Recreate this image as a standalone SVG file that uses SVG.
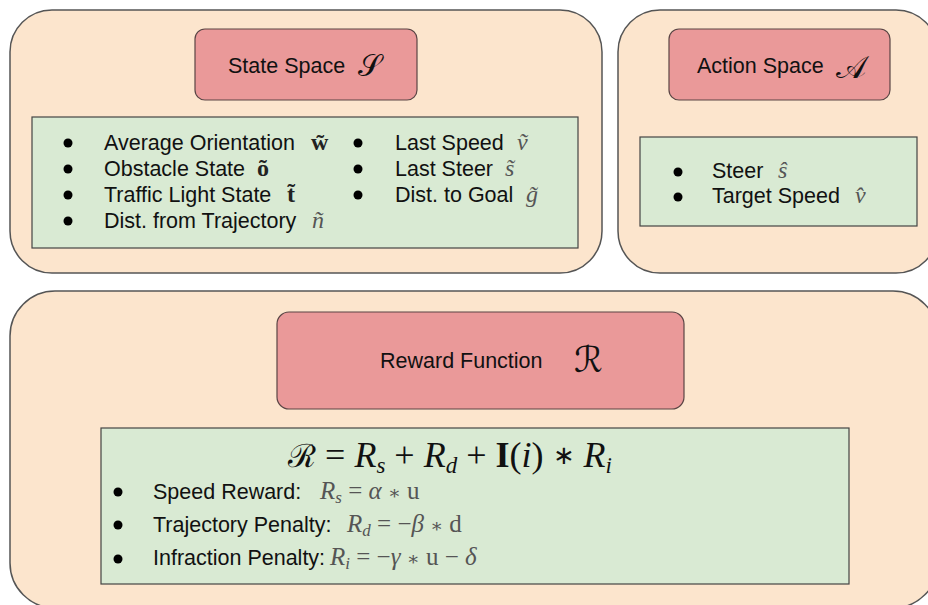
<svg xmlns="http://www.w3.org/2000/svg" width="928" height="605" viewBox="0 0 928 605">
<style>
.outer{fill:#fce5cd;stroke:#555;stroke-width:1.5}
.title{fill:#ea9999;stroke:#5a4545;stroke-width:1.2}
.green{fill:#d9ead3;stroke:#444;stroke-width:1.2}
.t{font-family:"Liberation Sans",Arial,sans-serif;font-size:21.5px;fill:#111}
.m{font-family:"Liberation Serif","DejaVu Serif",serif;font-style:italic;fill:#555;font-size:24px}
.mb{font-family:"Liberation Serif","DejaVu Serif",serif;font-weight:bold;fill:#222;font-size:24px}
.mr{font-family:"Liberation Serif","DejaVu Serif",serif;fill:#555;font-size:25px}
.cal{font-family:"DejaVu Serif","DejaVu Sans","Noto Sans",serif;fill:#111}
.b{fill:#000}
</style>
<rect width="928" height="605" fill="#fff"/>

<g id="state-space">
<rect class="outer" x="10" y="10" width="592" height="263" rx="42"/>
<rect class="title" x="195" y="29" width="222" height="71" rx="10"/>
<text class="t" x="228" y="73">State Space</text>
<text class="cal" x="358" y="76" font-size="30">𝒮</text>
<rect class="green" x="32" y="117" width="546" height="131"/>
<circle class="b" cx="68" cy="143" r="4.5"/>
<circle class="b" cx="68" cy="169" r="4.5"/>
<circle class="b" cx="68" cy="195" r="4.5"/>
<circle class="b" cx="68" cy="221" r="4.5"/>
<text class="t" x="104" y="150">Average Orientation</text>
<text class="mb" x="311" y="150">w&#x303;</text>
<text class="t" x="104" y="176">Obstacle State</text>
<text class="mb" x="257" y="176">o&#x303;</text>
<text class="t" x="104" y="202">Traffic Light State</text>
<text class="mb" x="287" y="202">t&#x303;</text>
<text class="t" x="104" y="228">Dist. from Trajectory</text>
<text class="m" x="312" y="228" font-size="22">n&#x303;</text>
<circle class="b" cx="358" cy="143" r="4.5"/>
<circle class="b" cx="358" cy="169" r="4.5"/>
<circle class="b" cx="358" cy="195" r="4.5"/>
<text class="t" x="395" y="150">Last Speed</text>
<text class="m" x="517" y="150">v&#x303;</text>
<text class="t" x="395" y="176">Last Steer</text>
<text class="m" x="505" y="176">s&#x303;</text>
<text class="t" x="395" y="202">Dist. to Goal</text>
<text class="m" x="526" y="202">g&#x303;</text>
</g>

<g id="action-space">
<rect class="outer" x="618" y="10" width="320" height="263" rx="42"/>
<rect class="title" x="669" y="29" width="221" height="71" rx="10"/>
<text class="t" x="697" y="73">Action Space</text>
<text class="cal" x="836" y="78" font-size="32">𝒜</text>
<rect class="green" x="640" y="137" width="277" height="89"/>
<circle class="b" cx="678" cy="172" r="4.5"/>
<circle class="b" cx="678" cy="197" r="4.5"/>
<text class="t" x="712" y="178">Steer</text>
<text class="m" x="778" y="178">s&#x302;</text>
<text class="t" x="712" y="203">Target Speed</text>
<text class="m" x="855" y="203">v&#x302;</text>
</g>

<g id="reward-function">
<rect class="outer" x="10" y="291" width="928" height="317" rx="45"/>
<rect class="title" x="277" y="312" width="407" height="97" rx="12"/>
<text class="t" x="380" y="368">Reward Function</text>
<text class="cal" x="574" y="372" font-size="36">ℛ</text>
<rect class="green" x="101" y="428" width="748" height="156"/>
<text x="450" y="467" text-anchor="middle" font-size="36" font-family="Liberation Serif,serif" fill="#111" xml:space="preserve"><tspan font-family="DejaVu Serif,serif" font-size="32">ℛ</tspan> = <tspan font-style="italic">R</tspan><tspan font-style="italic" font-size="23" dy="6">s</tspan><tspan dy="-6"> + </tspan><tspan font-style="italic">R</tspan><tspan font-style="italic" font-size="23" dy="6">d</tspan><tspan dy="-6"> + </tspan><tspan font-weight="bold">I</tspan>(<tspan font-style="italic">i</tspan>) <tspan font-size="26" dy="-3">∗</tspan><tspan dy="3"> </tspan><tspan font-style="italic">R</tspan><tspan font-style="italic" font-size="23" dy="6">i</tspan></text>
<circle class="b" cx="118" cy="492" r="4.5"/>
<circle class="b" cx="118" cy="525" r="4.5"/>
<circle class="b" cx="118" cy="559" r="4.5"/>
<text class="t" x="153" y="499">Speed Reward:</text>
<text class="mr" x="320" y="499"><tspan font-style="italic">R</tspan><tspan font-style="italic" font-size="17" dy="4">s</tspan><tspan dy="-4"> = </tspan><tspan font-style="italic">α</tspan> <tspan font-size="19">∗</tspan> u</text>
<text class="t" x="153" y="532">Trajectory Penalty:</text>
<text class="mr" x="347" y="532"><tspan font-style="italic">R</tspan><tspan font-style="italic" font-size="17" dy="4">d</tspan><tspan dy="-4"> = −</tspan><tspan font-style="italic">β</tspan> <tspan font-size="19">∗</tspan> d</text>
<text class="t" x="153" y="565">Infraction Penalty:</text>
<text class="mr" x="330" y="565"><tspan font-style="italic">R</tspan><tspan font-style="italic" font-size="17" dy="4">i</tspan><tspan dy="-4"> = −</tspan><tspan font-style="italic">γ</tspan> <tspan font-size="19">∗</tspan> u − <tspan font-style="italic">δ</tspan></text>
</g>

<g id="connectors"/>
</svg>
